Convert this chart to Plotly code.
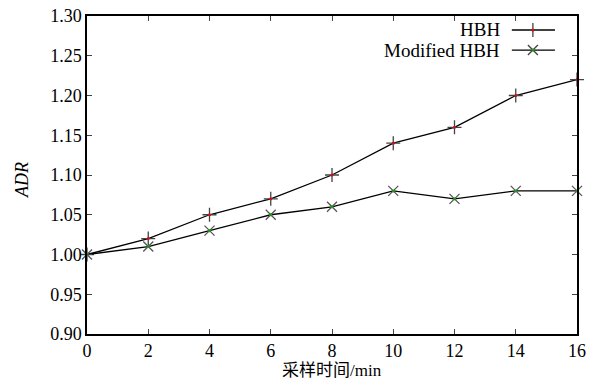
import plotly.graph_objects as go

time_min = [0, 2, 4, 6, 8, 10, 12, 14, 16]
hbh = [1.00, 1.02, 1.05, 1.07, 1.10, 1.14, 1.16, 1.20, 1.22]
modified_hbh = [1.00, 1.01, 1.03, 1.05, 1.06, 1.08, 1.07, 1.08, 1.08]
series_names = ["HBH", "Modified HBH"]
y_ticks = [0.90, 0.95, 1.00, 1.05, 1.10, 1.15, 1.20, 1.25, 1.30]
x_ticks = [0, 2, 4, 6, 8, 10, 12, 14, 16]
x_title = "采样时间/min"
y_title = "<i>ADR</i>"

FONT = "Liberation Serif, Noto Sans CJK SC, serif"

fig = go.Figure()

# HBH
fig.add_trace(go.Scatter(x=time_min, y=hbh, mode="lines+markers", name=series_names[0],
                         line=dict(color="black", width=1.3),
                         marker=dict(symbol="cross-thin", size=10, line=dict(color="#444", width=1.3)),
                         showlegend=False, cliponaxis=False))
fig.add_trace(go.Scatter(x=time_min, y=hbh, mode="markers", marker=dict(symbol="circle", size=3, color="#d01010"),
                         showlegend=False, hoverinfo="skip", cliponaxis=False))
# Modified HBH
fig.add_trace(go.Scatter(x=time_min, y=modified_hbh, mode="lines+markers", name=series_names[1],
                         line=dict(color="black", width=1.3),
                         marker=dict(symbol="x-thin", size=10, line=dict(color="#555", width=1.3)),
                         showlegend=False, cliponaxis=False))
fig.add_trace(go.Scatter(x=time_min, y=modified_hbh, mode="markers", marker=dict(symbol="circle", size=3, color="#10a010"),
                         showlegend=False, hoverinfo="skip", cliponaxis=False))

# Custom legend (text left, line sample right) on an overlay axis in [0,1]
leg_y = [0.956, 0.893]
leg_x0, leg_x1, leg_xm, leg_tx = 0.867, 0.955, 0.910, 0.847
for i, (name, sym, dot) in enumerate(zip(series_names, ["cross-thin", "x-thin"], ["#d01010", "#10a010"])):
    fig.add_trace(go.Scatter(x=[leg_x0, leg_x1], y=[leg_y[i], leg_y[i]], xaxis="x2", yaxis="y2",
                             mode="lines", line=dict(color="black", width=1.3), showlegend=False, hoverinfo="skip"))
    fig.add_trace(go.Scatter(x=[leg_xm], y=[leg_y[i]], xaxis="x2", yaxis="y2", mode="markers",
                             marker=dict(symbol=sym, size=10, line=dict(color="#444", width=1.3)),
                             showlegend=False, hoverinfo="skip"))
    fig.add_trace(go.Scatter(x=[leg_xm], y=[leg_y[i]], xaxis="x2", yaxis="y2", mode="markers",
                             marker=dict(symbol="circle", size=3, color=dot), showlegend=False, hoverinfo="skip"))
    fig.add_annotation(x=leg_tx, y=leg_y[i], xref="x2", yref="y2", text=name, showarrow=False,
                       xanchor="right", yanchor="middle", font=dict(family=FONT, size=19, color="black"))

# axis titles as annotations for exact placement
fig.add_annotation(x=0.5, y=0, xref="paper", yref="paper", text=x_title, showarrow=False,
                   xanchor="center", yanchor="middle", yshift=-36, font=dict(family=FONT, size=17))
fig.add_annotation(x=0, y=0.5, xref="paper", yref="paper", text=y_title, showarrow=False, textangle=-90,
                   xanchor="center", yanchor="middle", xshift=-65, yshift=-5, font=dict(family=FONT, size=18))

fig.update_layout(
    width=591, height=383,
    margin=dict(l=87, r=14, t=16, b=49),
    paper_bgcolor="white", plot_bgcolor="white",
    font=dict(family=FONT, size=18, color="black"),
    xaxis=dict(range=[0, 16], tickvals=x_ticks, ticks="inside", ticklen=5, tickwidth=1.2,
               showline=True, linecolor="black", linewidth=1.5, mirror="allticks",
               showgrid=False, zeroline=False, automargin=False, ticklabeloverflow="allow"),
    yaxis=dict(range=[0.90, 1.30], tickvals=y_ticks, tickformat=".2f", ticks="inside", ticklen=5, tickwidth=1.2,
               showline=True, linecolor="black", linewidth=1.5, mirror="allticks",
               showgrid=False, zeroline=False, automargin=False, ticklabeloverflow="allow"),
    xaxis2=dict(range=[0, 1], overlaying="x", visible=False),
    yaxis2=dict(range=[0, 1], overlaying="y", visible=False),
)

# remove the default 8px page margin so the figure fills the window exactly
fig.write_html("out.html", config={"displayModeBar": False},
               post_script="document.body.style.margin='0';document.body.style.overflow='hidden';")
